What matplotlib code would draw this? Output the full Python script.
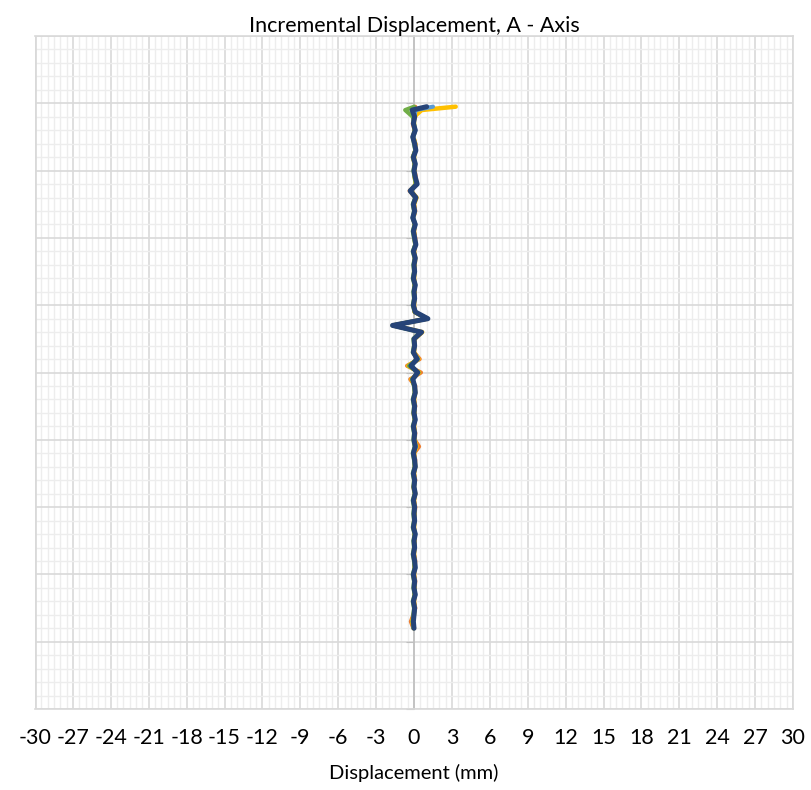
import numpy as np
import matplotlib.pyplot as plt
from matplotlib.ticker import MultipleLocator

# measurement depths (axis is unlabeled, depth increases downward)
depth = np.concatenate([[5.25], np.arange(5.5, 44.01, 0.5)])

orange = [0.1, 0.0, 0.1, -0.1, 0.05, -0.05, 0.1, 0.1, -0.1, 0.05,
          0.05, 0.15, 0.2, -0.35, 0.1, 0.0, 0.1, -0.05, 0.05, 0.0,
          0.1, 0.1, 0.0, 0.05, 0.05, 0.0, 0.0, 0.05, 0.05, 0.0,
          0.0, 0.05, 1.0, -1.6, 0.55, 0.05, 0.0, 0.0, 0.45, -0.55,
          0.55, -0.3, 0.1, 0.05, 0.0, 0.1, -0.05, 0.05, 0.0, 0.1,
          0.05, 0.4, 0.0, 0.1, 0.05, 0.0, 0.1, -0.05, 0.05, 0.0,
          0.1, 0.05, 0.0, 0.0, 0.05, 0.05, 0.0, 0.0, 0.1, 0.05,
          0.0, 0.1, 0.05, 0.05, 0.0, 0.1, -0.05, -0.25, -0.05]

yellow = [3.3, 0.6, 0.0, 0.0, 0.05, -0.05, 0.1, 0.1, 0.0, 0.05,
          0.05, 0.05, 0.15, -0.25, 0.2, 0.0, 0.05, -0.05, 0.05, 0.0,
          0.05, 0.1, 0.0, 0.1, 0.05, 0.05, 0.0, 0.05, 0.05, 0.05,
          0.0, 0.05, 1.05, -1.65, 0.65, 0.05, 0.05, 0.0, 0.35, -0.45,
          0.4, -0.2, 0.05, 0.1, 0.0, 0.05, 0.05, 0.05, 0.0, 0.05,
          0.05, 0.2, 0.0, 0.05, 0.1, 0.0, 0.05, 0.0, 0.1, 0.0,
          0.05, 0.05, 0.05, 0.0, 0.05, 0.05, 0.05, 0.0, 0.05, 0.05,
          0.0, 0.05, 0.05, 0.05, 0.0, 0.05, 0.0, -0.15, 0.0]

light_blue = [1.5, 0.1, 0.05, -0.05, 0.1, -0.05, 0.05, 0.1, -0.05, 0.1,
              0.0, 0.1, 0.2, -0.3, 0.1, -0.05, 0.05, -0.05, 0.1, -0.05,
              0.05, 0.1, -0.05, 0.1, 0.0, 0.05, -0.05, 0.1, 0.0, 0.05,
              -0.05, 0.1, 1.05, -1.65, 0.55, 0.0, 0.05, -0.05, 0.3, -0.3,
              0.3, -0.1, 0.05, 0.1, -0.05, 0.05, 0.0, 0.1, -0.05, 0.05,
              0.0, 0.15, -0.05, 0.05, 0.1, -0.05, 0.05, 0.0, 0.1, -0.05,
              0.05, 0.0, 0.05, -0.05, 0.1, 0.0, 0.05, -0.05, 0.05, 0.1,
              -0.05, 0.05, 0.0, 0.1, -0.05, 0.05, 0.0, -0.1, 0.0]

green = [0.0, -0.7, -0.1, 0.0, 0.05, -0.1, 0.0, 0.1, -0.1, 0.05,
         -0.05, 0.05, 0.15, -0.3, 0.1, -0.1, 0.0, -0.1, 0.05, -0.1,
         0.0, 0.1, -0.1, 0.05, -0.05, 0.0, -0.1, 0.05, -0.05, 0.0,
         -0.1, 0.05, 1.0, -1.7, 0.5, -0.05, 0.0, -0.1, 0.3, -0.4,
         0.35, -0.15, 0.0, 0.05, -0.1, 0.0, -0.05, 0.05, -0.1, 0.0,
         -0.05, 0.05, -0.1, 0.0, 0.05, -0.1, 0.0, -0.05, 0.05, -0.1,
         0.0, -0.05, 0.0, -0.1, 0.05, -0.05, 0.0, -0.1, 0.0, 0.05,
         -0.1, 0.0, -0.05, 0.05, -0.1, 0.0, -0.05, -0.1, -0.05]

dark_blue = [1.0, -0.15, 0.05, -0.05, 0.1, -0.1, 0.05, 0.15, -0.05, 0.1,
             0.0, 0.1, 0.25, -0.3, 0.15, -0.05, 0.05, -0.1, 0.1, -0.05,
             0.05, 0.15, -0.05, 0.1, 0.0, 0.05, -0.05, 0.1, 0.0, 0.05,
             -0.05, 0.1, 1.1, -1.7, 0.6, 0.0, 0.05, -0.05, 0.25, -0.25,
             0.3, -0.1, 0.05, 0.1, -0.05, 0.05, 0.0, 0.1, -0.05, 0.05,
             0.0, 0.1, -0.05, 0.05, 0.1, -0.05, 0.05, 0.0, 0.1, -0.05,
             0.05, 0.0, 0.05, -0.05, 0.1, 0.0, 0.05, -0.05, 0.05, 0.1,
             -0.05, 0.05, 0.0, 0.1, -0.05, 0.05, 0.0, -0.05, 0.0]

series = [(orange, '#ED7D31', 3.0), (yellow, '#FFC000', 3.2),
          (light_blue, '#5B9BD5', 3.0), (green, '#70AD47', 3.0),
          (dark_blue, '#264478', 3.6)]

plt.rcParams['font.family'] = ['Lato', 'DejaVu Sans']
plt.rcParams['axes.unicode_minus'] = False

fig = plt.figure(figsize=(8.11, 7.90), dpi=100)
ax = fig.add_axes([0.0432, 0.1025, 0.9346, 0.8519])

for vals, col, lw in series:
    ax.plot(vals, depth, color=col, lw=lw, solid_joinstyle='round',
            solid_capstyle='round', zorder=3)

ax.set_xlim(-30, 30)
ax.set_ylim(50, 0)
ax.xaxis.set_major_locator(MultipleLocator(3))
ax.xaxis.set_minor_locator(MultipleLocator(0.5))
ax.yaxis.set_major_locator(MultipleLocator(5))
ax.yaxis.set_minor_locator(MultipleLocator(1))

ax.grid(which='major', color='#D9D9D9', lw=1.2, zorder=0)
ax.grid(which='minor', color='#EDEDED', lw=1.0, zorder=0)
ax.set_axisbelow(True)

for s in ['top', 'right', 'bottom']:
    ax.spines[s].set_color('#D9D9D9')
    ax.spines[s].set_linewidth(1.2)
ax.spines['left'].set_position(('data', 0))
ax.spines['left'].set_color('#BFBFBF')
ax.spines['left'].set_linewidth(1.2)
ax.axvline(-30, color='#D9D9D9', lw=2.0, zorder=1)

ax.tick_params(axis='y', which='major', direction='out', length=6,
               color='#BFBFBF', labelleft=False)
ax.tick_params(axis='y', which='minor', length=0)
ax.tick_params(axis='x', which='both', length=0)
ax.tick_params(axis='x', which='major', labelsize=15.5, pad=14)

ax.set_title("Incremental Displacement, A - Axis", fontsize=15.5, pad=3)
ax.set_xlabel("Displacement (mm)", fontsize=14.5, labelpad=11)

plt.savefig('out.png', dpi=100)
